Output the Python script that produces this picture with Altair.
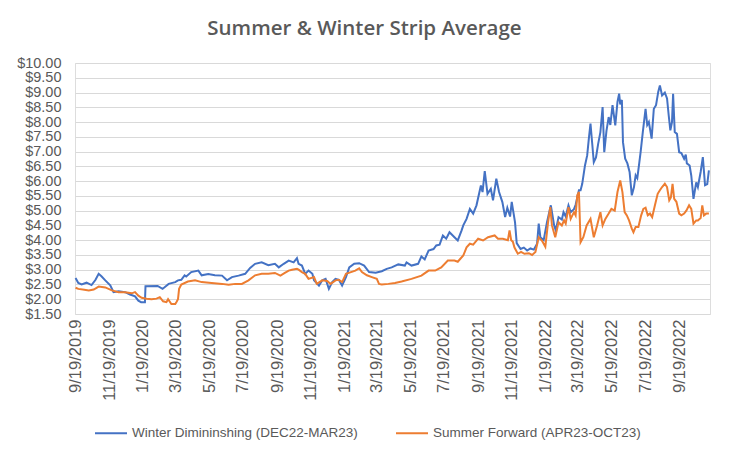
import altair as alt
import pandas as pd

title_text = "Summer & Winter Strip Average"
series_names = ["Winter Dimininshing (DEC22-MAR23)", "Summer Forward (APR23-OCT23)"]
series_colors = ["#4472C4", "#ED7D31"]

winter_points = [
    ("2019-09-19", 2.72), ("2019-09-24", 2.55), ("2019-09-30", 2.50), ("2019-10-09", 2.56), ("2019-10-18", 2.48),
    ("2019-10-25", 2.65), ("2019-10-31", 2.86), ("2019-11-05", 2.78), ("2019-11-12", 2.64), ("2019-11-21", 2.47),
    ("2019-11-27", 2.24), ("2019-12-06", 2.27), ("2019-12-18", 2.24), ("2019-12-27", 2.16), ("2020-01-05", 2.10),
    ("2020-01-11", 1.95), ("2020-01-16", 1.90), ("2020-01-23", 1.90), ("2020-01-24", 2.44), ("2020-02-15", 2.45),
    ("2020-02-24", 2.35), ("2020-03-06", 2.52), ("2020-03-18", 2.58), ("2020-03-23", 2.64), ("2020-03-29", 2.66),
    ("2020-04-04", 2.81), ("2020-04-07", 2.77), ("2020-04-16", 2.92), ("2020-04-29", 2.97), ("2020-05-05", 2.81),
    ("2020-05-17", 2.85), ("2020-05-29", 2.81), ("2020-06-11", 2.80), ("2020-06-20", 2.64), ("2020-06-29", 2.75),
    ("2020-07-11", 2.80), ("2020-07-23", 2.86), ("2020-08-01", 3.06), ("2020-08-10", 3.20), ("2020-08-22", 3.25),
    ("2020-09-03", 3.15), ("2020-09-15", 3.20), ("2020-09-22", 3.08), ("2020-10-01", 3.20), ("2020-10-10", 3.31),
    ("2020-10-19", 3.25), ("2020-10-25", 3.39), ("2020-10-28", 3.20), ("2020-11-03", 3.14), ("2020-11-09", 2.86),
    ("2020-11-15", 2.97), ("2020-11-22", 2.86), ("2020-11-25", 2.64), ("2020-12-04", 2.46), ("2020-12-10", 2.64),
    ("2020-12-16", 2.69), ("2020-12-22", 2.35), ("2020-12-28", 2.58), ("2021-01-03", 2.69), ("2021-01-09", 2.66),
    ("2021-01-15", 2.46), ("2021-01-22", 2.75), ("2021-01-28", 3.08), ("2021-02-06", 3.20), ("2021-02-15", 3.22),
    ("2021-02-24", 3.14), ("2021-03-05", 2.92), ("2021-03-17", 2.90), ("2021-03-28", 2.95), ("2021-04-06", 3.03),
    ("2021-04-15", 3.08), ("2021-04-27", 3.18), ("2021-05-09", 3.14), ("2021-05-12", 3.25), ("2021-05-21", 3.14),
    ("2021-06-02", 3.20), ("2021-06-08", 3.45), ("2021-06-14", 3.35), ("2021-06-21", 3.65), ("2021-06-30", 3.70),
    ("2021-07-05", 3.82), ("2021-07-11", 3.85), ("2021-07-17", 4.16), ("2021-07-23", 4.05), ("2021-07-29", 4.27),
    ("2021-08-07", 4.10), ("2021-08-13", 3.99), ("2021-08-20", 4.33), ("2021-08-23", 4.50), ("2021-08-29", 4.72),
    ("2021-09-04", 5.06), ("2021-09-10", 4.90), ("2021-09-16", 5.18), ("2021-09-24", 5.85), ("2021-09-27", 5.63),
    ("2021-10-01", 6.34), ("2021-10-06", 5.57), ("2021-10-12", 5.74), ("2021-10-16", 5.35), ("2021-10-22", 6.08),
    ("2021-10-27", 5.63), ("2021-11-02", 5.29), ("2021-11-07", 4.78), ("2021-11-11", 5.10), ("2021-11-16", 4.80),
    ("2021-11-19", 5.30), ("2021-11-22", 4.95), ("2021-11-25", 4.60), ("2021-11-28", 3.90), ("2021-12-05", 3.70),
    ("2021-12-11", 3.75), ("2021-12-17", 3.65), ("2021-12-23", 3.72), ("2021-12-29", 3.68), ("2022-01-04", 3.88),
    ("2022-01-07", 4.56), ("2022-01-10", 4.10), ("2022-01-16", 4.00), ("2022-01-22", 4.61), ("2022-01-29", 5.18),
    ("2022-02-04", 4.50), ("2022-02-07", 4.33), ("2022-02-12", 4.78), ("2022-02-18", 4.70), ("2022-02-21", 4.95),
    ("2022-02-25", 4.80), ("2022-03-02", 5.18), ("2022-03-06", 4.95), ("2022-03-12", 5.05), ("2022-03-15", 5.20),
    ("2022-03-21", 5.69), ("2022-03-24", 5.69), ("2022-03-27", 5.91), ("2022-04-01", 6.53), ("2022-04-05", 6.87),
    ("2022-04-08", 7.44), ("2022-04-11", 7.95), ("2022-04-14", 7.30), ("2022-04-17", 6.64), ("2022-04-21", 6.80),
    ("2022-04-25", 7.27), ("2022-04-29", 7.66), ("2022-05-03", 8.51), ("2022-05-06", 6.98), ("2022-05-10", 7.70),
    ("2022-05-14", 8.17), ("2022-05-17", 7.90), ("2022-05-21", 8.57), ("2022-05-26", 7.89), ("2022-05-30", 8.68),
    ("2022-06-02", 8.96), ("2022-06-04", 8.60), ("2022-06-07", 8.75), ("2022-06-09", 7.32), ("2022-06-13", 6.76),
    ("2022-06-17", 6.60), ("2022-06-21", 6.31), ("2022-06-25", 5.52), ("2022-06-29", 5.80), ("2022-07-02", 6.20),
    ("2022-07-05", 6.10), ("2022-07-08", 6.53), ("2022-07-11", 6.98), ("2022-07-15", 7.66), ("2022-07-20", 8.45),
    ("2022-07-23", 7.90), ("2022-07-26", 8.00), ("2022-07-31", 7.44), ("2022-08-04", 8.45), ("2022-08-08", 8.57),
    ("2022-08-12", 9.02), ("2022-08-15", 9.24), ("2022-08-19", 8.90), ("2022-08-24", 9.00), ("2022-08-28", 8.80),
    ("2022-08-31", 8.23), ("2022-09-03", 7.72), ("2022-09-06", 8.00), ("2022-09-08", 8.96), ("2022-09-11", 7.66),
    ("2022-09-15", 7.60), ("2022-09-19", 6.98), ("2022-09-23", 6.95), ("2022-09-28", 6.76), ("2022-10-01", 6.90),
    ("2022-10-03", 6.60), ("2022-10-08", 6.53), ("2022-10-11", 6.19), ("2022-10-15", 5.40), ("2022-10-20", 5.96),
    ("2022-10-23", 5.80), ("2022-10-28", 6.31), ("2022-11-01", 6.81), ("2022-11-05", 5.86), ("2022-11-09", 5.90),
    ("2022-11-12", 6.36),
]

summer_points = [
    ("2019-09-19", 2.39), ("2019-09-24", 2.35), ("2019-10-05", 2.32), ("2019-10-13", 2.30), ("2019-10-22", 2.33),
    ("2019-10-31", 2.43), ("2019-11-12", 2.40), ("2019-11-24", 2.30), ("2019-12-06", 2.24), ("2019-12-18", 2.24),
    ("2019-12-30", 2.20), ("2020-01-05", 2.24), ("2020-01-11", 2.12), ("2020-01-17", 2.05), ("2020-01-26", 2.02),
    ("2020-02-04", 2.00), ("2020-02-13", 2.02), ("2020-02-19", 2.07), ("2020-02-25", 1.93), ("2020-03-02", 1.90),
    ("2020-03-05", 2.00), ("2020-03-11", 1.84), ("2020-03-18", 1.84), ("2020-03-20", 1.90), ("2020-03-23", 2.00),
    ("2020-03-25", 2.35), ("2020-03-29", 2.50), ("2020-04-10", 2.60), ("2020-04-23", 2.64), ("2020-05-05", 2.58),
    ("2020-05-23", 2.55), ("2020-06-11", 2.52), ("2020-06-23", 2.49), ("2020-07-05", 2.52), ("2020-07-17", 2.52),
    ("2020-07-29", 2.64), ("2020-08-10", 2.81), ("2020-08-22", 2.86), ("2020-09-03", 2.86), ("2020-09-15", 2.89),
    ("2020-09-25", 2.80), ("2020-10-03", 2.89), ("2020-10-10", 2.97), ("2020-10-16", 3.00), ("2020-10-25", 3.03),
    ("2020-10-28", 3.00), ("2020-11-03", 2.92), ("2020-11-09", 2.86), ("2020-11-15", 2.69), ("2020-11-25", 2.75),
    ("2020-11-30", 2.52), ("2020-12-10", 2.64), ("2020-12-19", 2.62), ("2020-12-25", 2.52), ("2021-01-03", 2.64),
    ("2021-01-09", 2.66), ("2021-01-15", 2.58), ("2021-01-22", 2.86), ("2021-01-31", 2.92), ("2021-02-08", 2.97),
    ("2021-02-15", 3.05), ("2021-02-20", 2.92), ("2021-03-01", 2.81), ("2021-03-10", 2.75), ("2021-03-19", 2.69),
    ("2021-03-23", 2.52), ("2021-03-28", 2.50), ("2021-04-09", 2.52), ("2021-04-21", 2.55), ("2021-05-03", 2.60),
    ("2021-05-21", 2.69), ("2021-06-08", 2.80), ("2021-06-21", 2.97), ("2021-07-03", 2.97), ("2021-07-14", 3.08),
    ("2021-07-26", 3.31), ("2021-08-07", 3.31), ("2021-08-13", 3.27), ("2021-08-23", 3.48), ("2021-08-29", 3.76),
    ("2021-09-04", 3.88), ("2021-09-10", 3.85), ("2021-09-19", 4.05), ("2021-09-28", 3.99), ("2021-10-07", 4.10),
    ("2021-10-19", 4.16), ("2021-10-25", 4.05), ("2021-11-03", 4.05), ("2021-11-12", 4.00), ("2021-11-15", 4.33),
    ("2021-11-18", 4.00), ("2021-11-21", 3.95), ("2021-11-24", 3.75), ("2021-11-30", 3.54), ("2021-12-06", 3.60),
    ("2021-12-12", 3.54), ("2021-12-20", 3.56), ("2021-12-26", 3.50), ("2022-01-01", 3.60), ("2022-01-07", 4.10),
    ("2022-01-13", 3.98), ("2022-01-19", 3.78), ("2022-01-24", 4.61), ("2022-01-28", 5.12), ("2022-01-31", 4.50),
    ("2022-02-06", 4.10), ("2022-02-12", 4.61), ("2022-02-18", 4.50), ("2022-02-22", 4.67), ("2022-02-25", 4.56),
    ("2022-03-02", 5.12), ("2022-03-06", 4.72), ("2022-03-12", 4.95), ("2022-03-15", 4.84), ("2022-03-18", 5.52),
    ("2022-03-21", 5.63), ("2022-03-24", 3.93), ("2022-03-29", 4.10), ("2022-04-04", 4.50), ("2022-04-11", 4.72),
    ("2022-04-17", 4.10), ("2022-04-23", 4.50), ("2022-04-29", 4.95), ("2022-05-03", 4.50), ("2022-05-08", 4.72),
    ("2022-05-14", 4.90), ("2022-05-19", 5.06), ("2022-05-25", 5.00), ("2022-05-30", 5.63), ("2022-06-04", 6.02),
    ("2022-06-08", 5.63), ("2022-06-12", 4.95), ("2022-06-16", 4.84), ("2022-06-20", 4.67), ("2022-06-25", 4.39),
    ("2022-06-28", 4.27), ("2022-07-02", 4.45), ("2022-07-07", 4.45), ("2022-07-12", 4.84), ("2022-07-16", 5.06),
    ("2022-07-20", 5.10), ("2022-07-24", 4.84), ("2022-07-28", 4.90), ("2022-08-01", 4.78), ("2022-08-06", 5.18),
    ("2022-08-11", 5.57), ("2022-08-15", 5.69), ("2022-08-19", 5.80), ("2022-08-24", 5.91), ("2022-08-28", 5.80),
    ("2022-09-01", 5.35), ("2022-09-04", 5.45), ("2022-09-07", 5.91), ("2022-09-10", 5.40), ("2022-09-14", 5.30),
    ("2022-09-19", 4.90), ("2022-09-23", 4.84), ("2022-09-28", 4.90), ("2022-10-02", 5.00), ("2022-10-07", 5.18),
    ("2022-10-11", 5.06), ("2022-10-15", 4.56), ("2022-10-20", 4.67), ("2022-10-23", 4.67), ("2022-10-28", 4.75),
    ("2022-10-31", 5.18), ("2022-11-03", 4.84), ("2022-11-07", 4.90), ("2022-11-12", 4.90),
]

y_ticks = [1.5, 2.0, 2.5, 3.0, 3.5, 4.0, 4.5, 5.0, 5.5, 6.0, 6.5, 7.0, 7.5, 8.0, 8.5, 9.0, 9.5, 10.0]
x_tick_dates = [
    (2019, 9, 19), (2019, 11, 19), (2020, 1, 19), (2020, 3, 19), (2020, 5, 19), (2020, 7, 19),
    (2020, 9, 19), (2020, 11, 19), (2021, 1, 19), (2021, 3, 19), (2021, 5, 19), (2021, 7, 19),
    (2021, 9, 19), (2021, 11, 19), (2022, 1, 19), (2022, 3, 19), (2022, 5, 19), (2022, 7, 19),
    (2022, 9, 19),
]
x_domain = [(2019, 9, 18), (2022, 11, 14)]

rows = []
for name, pts in zip(series_names, [winter_points, summer_points]):
    for d, v in pts:
        rows.append({"date": d, "price": v, "series": name})
df = pd.DataFrame(rows)


def dt(t):
    return alt.DateTime(year=t[0], month=t[1], date=t[2], utc=True)


TXT = "#595959"
GRID = "#d9d9d9"

chart = alt.Chart(df).mark_line(strokeWidth=2, interpolate="linear").encode(
    x=alt.X(
        "date:T",
        scale=alt.Scale(type="utc", domain=[dt(x_domain[0]), dt(x_domain[1])]),
        axis=alt.Axis(
            values=[dt(t) for t in x_tick_dates],
            labelExpr="utcFormat(datum.value, '%-m/%-d/%Y')",
            labelAngle=-90,
            labelOverlap=False,
            labelFontSize=16.5,
            labelColor=TXT,
            labelFont="Liberation Sans",
            labelPadding=5,
            domain=False,
            ticks=False,
            grid=False,
            title=None,
        ),
    ),
    y=alt.Y(
        "price:Q",
        scale=alt.Scale(domain=[1.5, 10.0], nice=False, zero=False),
        axis=alt.Axis(
            values=y_ticks,
            format="$.2f",
            labelOverlap=False,
            labelFontSize=14.5,
            labelColor=TXT,
            labelFont="Liberation Sans",
            labelPadding=14,
            domain=False,
            ticks=False,
            grid=True,
            gridColor=GRID,
            gridWidth=1,
            title=None,
        ),
    ),
    color=alt.Color(
        "series:N",
        scale=alt.Scale(domain=series_names, range=series_colors),
        legend=alt.Legend(
            title=None,
            orient="none",
            direction="horizontal",
            legendX=19,
            legendY=353,
            symbolType="stroke",
            symbolSize=1024,
            symbolStrokeWidth=2,
            labelFontSize=13.5,
            labelFont="Liberation Sans",
            labelColor=TXT,
            labelOffset=4,
            columnPadding=34,
            labelLimit=400,
        ),
    ),
    order=alt.Order("date:T"),
).properties(
    width=635,
    height=251,
    title=alt.TitleParams(
        title_text,
        anchor="middle",
        dx=-28,
        offset=16,
        fontSize=20.5,
        font="Open Sans",
        fontWeight=600,
        color=TXT,
    ),
    autosize=alt.AutoSizeParams(type="none"),
    padding={"left": 67, "top": 55, "right": 12, "bottom": 132},
).configure_view(stroke=None).configure(background="white")

chart.save("out.html", embed_options={"renderer": "svg", "actions": False})
